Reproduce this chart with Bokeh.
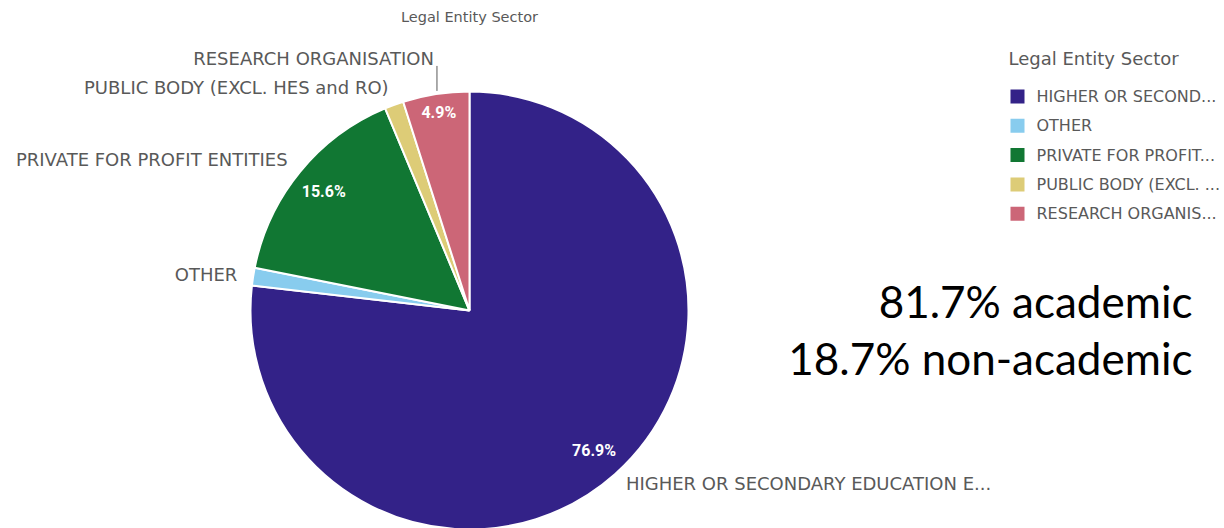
import math
from bokeh.plotting import figure
from bokeh.models import Range1d, ColumnDataSource
from bokeh.core.properties import value
from bokeh.embed import file_html
from bokeh.resources import INLINE

# ---- data ----
categories = ["HIGHER OR SECONDARY EDUCATION E...", "OTHER", "PRIVATE FOR PROFIT ENTITIES",
              "PUBLIC BODY (EXCL. HES and RO)", "RESEARCH ORGANISATION"]
legend_labels = ["HIGHER OR SECOND...", "OTHER", "PRIVATE FOR PROFIT...",
                 "PUBLIC BODY (EXCL. ...", "RESEARCH ORGANIS..."]
shares = [76.9, 1.3, 15.6, 1.4, 4.9]
pct_labels = ["76.9%", "", "15.6%", "", "4.9%"]
colors = ["#332288", "#88CCEE", "#117733", "#DDCC77", "#CC6677"]
title = "Legal Entity Sector"
note_lines = ["81.7% academic", "18.7% non-academic"]

W, H = 1224, 528
def Y(img_y):  # image row -> data y
    return H - img_y

p = figure(width=W, height=H, output_backend="svg", toolbar_location=None,
           x_range=Range1d(0, W), y_range=Range1d(0, H),
           min_border=0, outline_line_color=None, tools="")
p.axis.visible = False
p.grid.visible = False
p.background_fill_color = "white"

cx, cy, r = 469, Y(310), 219
total = sum(shares)
starts, ends, mids = [], [], []
cum = 0.0
for s in shares:
    a0 = math.pi / 2 - 2 * math.pi * cum / total
    cum += s
    a1 = math.pi / 2 - 2 * math.pi * cum / total
    starts.append(a0); ends.append(a1); mids.append((a0 + a1) / 2)

src = ColumnDataSource(dict(start=starts, end=ends, color=colors, cat=categories))
p.wedge(x=cx, y=cy, radius=r, start_angle="start", end_angle="end", direction="clock",
        fill_color="color", line_color="white", line_width=2, source=src)

gray = "#595959"
font = value("DejaVu Sans")

# inside percentage labels
frac = [0.855, 0, 0.86, 0, 0.915]
ix, iy, it = [], [], []
for m, f, t in zip(mids, frac, pct_labels):
    if t:
        ix.append(cx + f * r * math.cos(m)); iy.append(cy + f * r * math.sin(m)); it.append(t)
p.text(x=ix, y=iy, text=it, text_color="white", text_font=value("Roboto"), text_font_size="16px",
       text_font_style="bold", text_align="center", text_baseline="middle")

# outside category labels
nudge = [2, 0, 2, 2, 0]
for i, (m, t) in enumerate(zip(mids, categories)):
    right = math.cos(m) > 0
    ox = cx + (r + 16) * math.cos(m)
    oy = cy + (r + 16) * math.sin(m) + nudge[i]
    align = "left" if right else "right"
    if i == 4:
        ex = cx + r * math.cos(m) + 1
        top = cy + math.sqrt(r * r - (ex - cx) ** 2)
        p.line(x=[ex, ex], y=[top + 3, top + 28], line_color=gray, line_width=1)
        ox = ex - 3
        oy = top + 35
    p.text(x=[ox], y=[oy], text=[t], text_color=gray, text_font=font, text_font_size="18px",
           text_align=align, text_baseline="middle")

# chart title
p.text(x=[cx], y=[Y(16)], text=[title], text_color=gray, text_font=font, text_font_size="14.5px",
       text_align="center", text_baseline="middle")

# legend
p.text(x=[1008], y=[Y(58)], text=[title], text_color=gray, text_font=font, text_font_size="18px",
       text_align="left", text_baseline="middle")
ly = [Y(96 + 29.3 * i) for i in range(len(categories))]
p.rect(x=[1017] * len(ly), y=ly, width=14, height=14, fill_color=colors, line_color=None)
p.text(x=[1036] * len(ly), y=ly, text=legend_labels, text_color=gray, text_font=font,
       text_font_size="16px", text_align="left", text_baseline="middle")

# note
p.text(x=[1192, 1192], y=[Y(300), Y(357)], text=note_lines, text_color="black",
       text_font=value("Lato"), text_font_size="44px", text_align="right", text_baseline="middle")

open("out.html", "w").write(file_html(p, INLINE))
